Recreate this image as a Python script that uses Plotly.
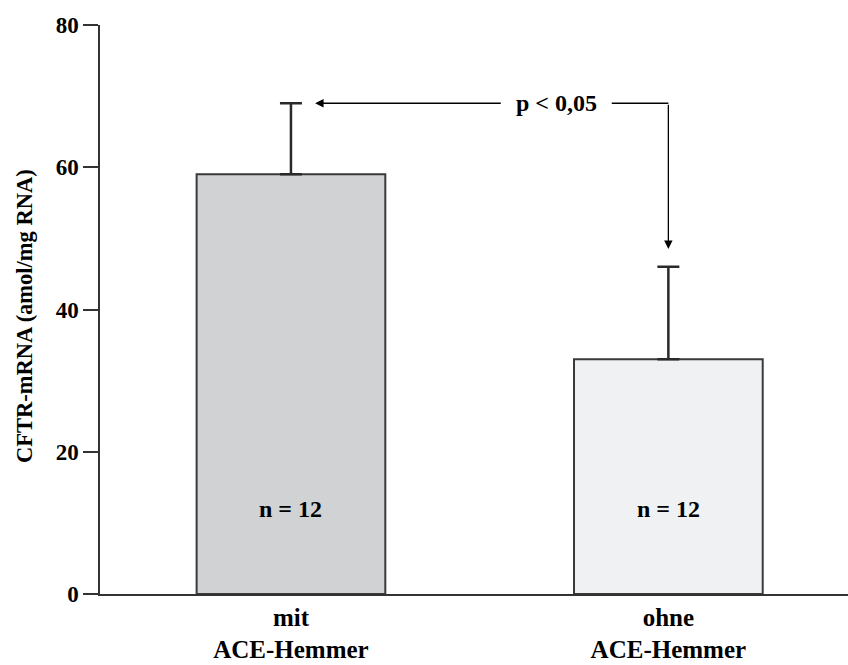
import plotly.graph_objects as go

categories = ["mit<br>ACE-Hemmer", "ohne<br>ACE-Hemmer"]
values = [59, 33]
err_plus = [10, 13]
n_labels = ["n = 12", "n = 12"]
n_label_y = 12
bar_colors = ["#d1d2d4", "#f0f1f3"]
y_ticks = [0, 20, 40, 60, 80]
y_title = "CFTR-mRNA (amol/mg RNA)"
p_text = "p < 0,05"

FONT = "Liberation Serif, Times New Roman, serif"
x_pos = list(range(len(categories)))
tops = [v + e for v, e in zip(values, err_plus)]

fig = go.Figure()
fig.add_trace(go.Bar(
    x=x_pos, y=values, width=0.5,
    marker=dict(color=bar_colors, line=dict(color="#3a3a3a", width=2)),
    error_y=dict(type="data", symmetric=False, array=err_plus,
                 arrayminus=[0] * len(values), color="#2a2a2a",
                 thickness=2.5, width=11),
    showlegend=False, hoverinfo="skip",
))

for xi, t in zip(x_pos, n_labels):
    fig.add_annotation(x=xi, y=n_label_y, text=t, showarrow=False,
                       font=dict(family=FONT, size=24, color="black", weight="bold"))

# significance bracket
y_line = tops[0]
fig.add_annotation(x=x_pos[0] + 0.064, y=y_line, ax=x_pos[0] + 0.56, ay=y_line,
                   xref="x", yref="y", axref="x", ayref="y",
                   text="", showarrow=True, arrowhead=2, arrowsize=1.3,
                   arrowwidth=1.3, arrowcolor="black")
fig.add_annotation(x=0.703, y=y_line, text=p_text, showarrow=False,
                   font=dict(family=FONT, size=24, color="black", weight="bold"))
fig.add_shape(type="line", x0=0.85, x1=x_pos[1], y0=y_line, y1=y_line,
              xref="x", yref="y", line=dict(color="black", width=1.3))
fig.add_annotation(x=x_pos[1], y=tops[1] + 2.5, ax=x_pos[1], ay=y_line,
                   xref="x", yref="y", axref="x", ayref="y",
                   text="", showarrow=True, arrowhead=2, arrowsize=1.3,
                   arrowwidth=1.3, arrowcolor="black")

# y-axis title
fig.add_annotation(xref="paper", yref="paper", x=0, y=0.4886, xshift=-75,
                   xanchor="center", yanchor="middle", textangle=-90,
                   text=y_title, showarrow=False,
                   font=dict(family=FONT, size=22.5, color="black", weight="bold"))

fig.update_layout(
    width=848, height=665,
    margin=dict(l=100, r=0, t=25, b=71),
    paper_bgcolor="white", plot_bgcolor="white",
    font=dict(family=FONT, size=22, color="black", weight="bold"),
)
fig.update_xaxes(
    range=[-0.506, 1.476], tickmode="array", tickvals=x_pos, ticktext=categories,
    showline=True, linecolor="#333", linewidth=1.5, ticks="", showgrid=False,
    zeroline=False, automargin=False,
    tickfont=dict(family=FONT, size=25, color="black", weight="bold"),
)
fig.update_yaxes(
    range=[0, 80], tickvals=y_ticks, showline=True, linecolor="#333", linewidth=1.5,
    ticks="outside", ticklen=15, tickwidth=1.5, tickcolor="#333", showgrid=False,
    zeroline=False, automargin=False,
    tickfont=dict(family=FONT, size=23, color="black", weight="bold"),
)

fig.write_html("out.html")
